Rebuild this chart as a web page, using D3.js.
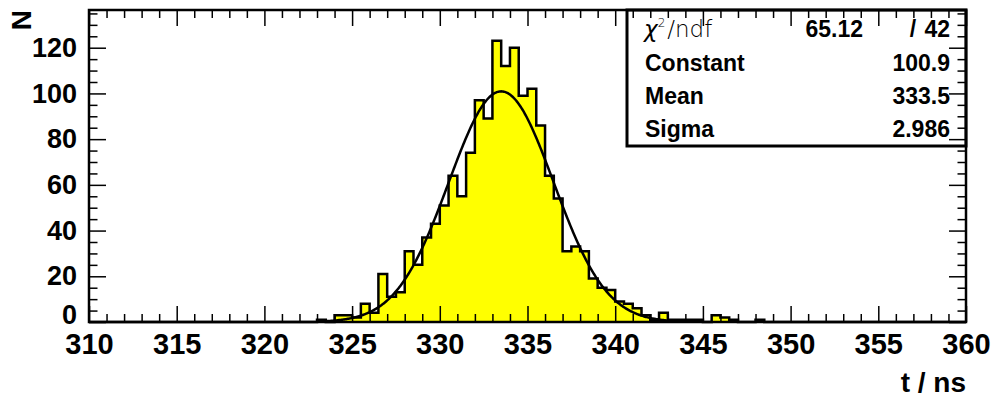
<!DOCTYPE html>
<html>
<head>
<meta charset="utf-8">
<script src="https://cdn.jsdelivr.net/npm/d3@7"></script>
<style>
  body { margin: 0; background: #fff; }
  svg text { font-family: "Liberation Sans", Arial, sans-serif; font-weight: bold; fill: #000; }
</style>
</head>
<body>
<div id="chart"></div>
<script>
// histogram: 100 bins of 0.5 ns from 310 to 360
const xMin = 310, xMax = 360, binWidth = 0.5;
const counts = [
  0, 0, 0, 0, 0, 0, 0, 0, 0, 0,
  0, 0, 0, 0, 0, 0, 0, 0, 0, 0,
  0, 0, 0, 0, 0, 0, 1, 0, 3, 3,
  2, 8, 4, 21, 11, 13, 31, 25, 37, 43,
  51, 64, 55, 74, 97, 89, 123, 112, 120, 99,
  102, 86, 64, 54, 31, 33, 31, 19, 15, 14,
  9, 8, 6, 3, 1, 4, 1, 1, 1, 1,
  0, 3, 2, 1, 0, 0, 1, 0, 0, 0,
  0, 0, 0, 0, 0, 0, 0, 0, 0, 0,
  0, 0, 0, 0, 0, 0, 0, 0, 0, 0
];

// gaussian fit shown in the stats box
const fitNames = ["Constant", "Mean", "Sigma"];
const fitValues = ["100.9", "333.5", "2.986"];
const fitParams = { constant: 100.9, mean: 333.5, sigma: 2.986 };
const fitRange = [323.1, 344];
const chi2 = "65.12", ndf = "42";

const xMajor = d3.range(310, 361, 5);
const xMinor = d3.range(310, 361, 1).filter(v => v % 5 !== 0);
const yMajor = [0, 20, 40, 60, 80, 100, 120];
const yMinor = d3.range(0, 136, 5).filter(v => v % 20 !== 0);

const W = 994, H = 398;
const margin = {top: 10, right: 28, bottom: 76, left: 89};
const width = W - margin.left - margin.right;
const height = H - margin.top - margin.bottom;

const svg = d3.select("#chart").append("svg")
  .attr("width", W).attr("height", H);
const g = svg.append("g")
  .attr("transform", "translate(" + margin.left + "," + margin.top + ")");

const x = d3.scaleLinear().domain([xMin, xMax]).range([0, width]);
const y = d3.scaleLinear().domain([0, 136.5]).range([height, 0]);

// histogram outline as steps
const pts = [[x(xMin), y(0)]];
counts.forEach((c, i) => {
  const lo = xMin + i * binWidth;
  pts.push([x(lo), y(c)]);
  pts.push([x(lo + binWidth), y(c)]);
});
pts.push([x(xMax), y(0)]);

g.append("path")
  .attr("d", d3.line()(pts) + "Z")
  .attr("fill", "#ffff00")
  .attr("stroke", "none");
g.append("path")
  .attr("d", d3.line()(pts))
  .attr("fill", "none")
  .attr("stroke", "#000")
  .attr("stroke-width", 2.5)
  .attr("stroke-linejoin", "miter");

// fit curve
const gaus = t => fitParams.constant * Math.exp(-0.5 * Math.pow((t - fitParams.mean) / fitParams.sigma, 2));
const fitT = d3.range(fitRange[0], fitRange[1] + 0.001, 0.05);
g.append("path")
  .attr("d", d3.line().x(t => x(t)).y(t => y(gaus(t)))(fitT))
  .attr("fill", "none")
  .attr("stroke", "#000")
  .attr("stroke-width", 2.5);

// stats box
const box = {x0: 627 - margin.left, x1: width, y0: 0, y1: 146 - margin.top};
g.append("rect")
  .attr("x", box.x0).attr("y", box.y0)
  .attr("width", box.x1 - box.x0).attr("height", box.y1 - box.y0)
  .attr("fill", "#fff").attr("stroke", "#000").attr("stroke-width", 3);

const rowBase = [27, 61, 94, 127];
const chiText = g.append("text")
  .attr("x", box.x0 + 17).attr("y", rowBase[0])
  .style("font-family", "'DejaVu Sans', sans-serif")
  .style("font-weight", 300)
  .style("font-size", "23px");
chiText.append("tspan").text("χ").style("font-style", "italic");
chiText.append("tspan").text("2").attr("dy", -10).style("font-size", "12px");
chiText.append("tspan").text("/ndf").attr("dy", 10).attr("dx", 2);

g.append("text").attr("x", 863 - margin.left).attr("y", rowBase[0])
  .attr("text-anchor", "end").style("font-size", "23px").text(chi2);
g.append("text").attr("x", 913 - margin.left).attr("y", rowBase[0])
  .attr("text-anchor", "middle").style("font-size", "23px").text("/");
g.append("text").attr("x", 950 - margin.left).attr("y", rowBase[0])
  .attr("text-anchor", "end").style("font-size", "23px").text(ndf);

fitNames.forEach((n, i) => {
  g.append("text").attr("x", box.x0 + 18).attr("y", rowBase[i + 1])
    .style("font-size", "23px").text(n);
  g.append("text").attr("x", 950 - margin.left).attr("y", rowBase[i + 1])
    .attr("text-anchor", "end").style("font-size", "23px").text(fitValues[i]);
});

// axes: ticks point inward, drawn on top
function styleAxis(sel) {
  sel.select(".domain").remove();
  sel.selectAll(".tick line").attr("stroke", "#000").attr("stroke-width", 1.5);
}

g.append("g").attr("transform", "translate(0," + height + ")")
  .call(d3.axisBottom(x).tickValues(xMajor).tickSize(-16).tickPadding(11).tickFormat(d3.format("d")))
  .call(styleAxis)
  .selectAll("text").style("font-size", "29px").style("font-family", "'Liberation Sans', Arial, sans-serif").style("font-weight", "bold");
g.append("g").attr("transform", "translate(0," + height + ")")
  .call(d3.axisBottom(x).tickValues(xMinor).tickSize(-8).tickFormat(""))
  .call(styleAxis);
g.append("g")
  .call(d3.axisTop(x).tickValues(xMajor).tickSize(-16).tickFormat(""))
  .call(styleAxis);
g.append("g")
  .call(d3.axisTop(x).tickValues(xMinor).tickSize(-8).tickFormat(""))
  .call(styleAxis);

const yAx = g.append("g")
  .call(d3.axisLeft(y).tickValues(yMajor).tickSize(-17).tickPadding(12).tickFormat(d3.format("d")))
  .call(styleAxis);
yAx.selectAll("text").style("font-size", "27px").style("font-family", "'Liberation Sans', Arial, sans-serif").style("font-weight", "bold");
yAx.selectAll(".tick").filter(d => d === 0).select("text").attr("dy", "0.05em");
g.append("g")
  .call(d3.axisLeft(y).tickValues(yMinor).tickSize(-8.5).tickFormat(""))
  .call(styleAxis);
g.append("g").attr("transform", "translate(" + width + ",0)")
  .call(d3.axisRight(y).tickValues(yMajor).tickSize(-17).tickFormat(""))
  .call(styleAxis);
g.append("g").attr("transform", "translate(" + width + ",0)")
  .call(d3.axisRight(y).tickValues(yMinor).tickSize(-8.5).tickFormat(""))
  .call(styleAxis);

// frame
g.append("rect")
  .attr("x", 0).attr("y", 0).attr("width", width).attr("height", height)
  .attr("fill", "none").attr("stroke", "#000").attr("stroke-width", 2.5);

// axis titles
svg.append("text")
  .attr("x", margin.left + width).attr("y", 392)
  .attr("text-anchor", "end").style("font-size", "28px").text("t / ns");
svg.append("text")
  .attr("transform", "translate(31,10) rotate(-90)")
  .attr("text-anchor", "end").style("font-size", "28px").text("N");
</script>
</body>
</html>
